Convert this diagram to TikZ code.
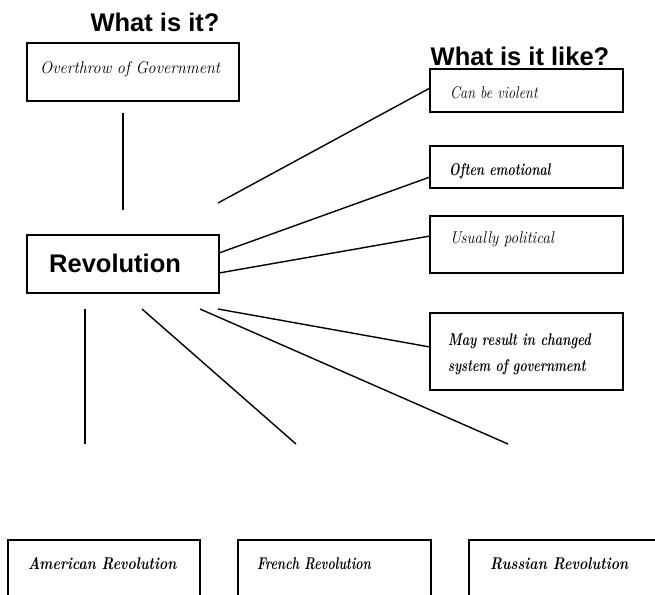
\documentclass[tikz,border=0pt]{standalone}
\usepackage{graphicx}
\usepackage{fontspec}
\newfontfamily\headfont{Liberation Sans}
\newcommand{\hsq}[2]{\scalebox{#1}[1]{#2}}
\begin{document}
\begin{tikzpicture}[x=1pt,y=-1pt,
  box/.style={draw=black,line width=1.6pt,fill=white},
  conn/.style={draw=black,line width=1.4pt},
  head/.style={font=\headfont\bfseries\fontsize{25.5}{30}\selectfont,inner sep=0pt,anchor=base},
  scr/.style={font=\itshape\fontsize{17}{20}\selectfont,inner sep=0pt,anchor=base west},
  scrb/.style={font=\bfseries\itshape\fontsize{17}{20}\selectfont,inner sep=0pt,anchor=base west}]
\clip (0,0) rectangle (655,594);
\fill[white] (0,0) rectangle (655,594);
% boxes
\draw[box] (27,43) rectangle (239,101);
\draw[box] (430,69) rectangle (623,112);
\draw[box] (430,146) rectangle (623,188);
\draw[box] (430,216) rectangle (623,273);
\draw[box] (430,313) rectangle (623,390);
\draw[box] (27,235) rectangle (219,293);
\draw[box] (8,540) rectangle (200,610);
\draw[box] (238,540) rectangle (431,610);
\draw[box] (469,540) rectangle (662,610);
% headings
\node[head] (h1) at (155,32) {What is it?};
\node[head] (h2) at (520,65) {What is it like?};
\node[head,anchor=base west] (rev) at (49,272) {Revolution};
% texts
\node[scr] (over) at (40,73) {\hsq{0.95}{Overthrow of Government}};
\node[scr] (viol) at (450,98) {\hsq{0.84}{Can be violent}};
\node[scrb] (emo) at (449,175) {\hsq{0.73}{Often emotional}};
\node[scr] (pol) at (450,243) {\hsq{0.90}{Usually political}};
\node[scrb] (may1) at (448,345) {\hsq{0.75}{May result in changed}};
\node[scrb] (may2) at (448,371) {\hsq{0.73}{system of government}};
\node[scrb] (am) at (28,569) {\hsq{0.82}{American Revolution}};
\node[scrb] (fr) at (257,569) {\hsq{0.73}{French Revolution}};
\node[scrb] (ru) at (490,569) {\hsq{0.83}{Russian Revolution}};
% connector end points
\coordinate (a0) at (123,113); \coordinate (b0) at (123,210);
\coordinate (a1) at (218,203); \coordinate (b1) at (430,88);
\coordinate (a2) at (219,253); \coordinate (b2) at (430,177);
\coordinate (a3) at (219,273); \coordinate (b3) at (430,236);
\coordinate (a4) at (218,309); \coordinate (b4) at (430,347);
\coordinate (a5) at (200,309); \coordinate (b5) at (508,444);
\coordinate (a6) at (142,309); \coordinate (b6) at (296,444);
\coordinate (a7) at (85,309);  \coordinate (b7) at (85,444);
\foreach \i in {0,...,7} \draw[conn] (a\i) -- (b\i);
\end{tikzpicture}
\end{document}
